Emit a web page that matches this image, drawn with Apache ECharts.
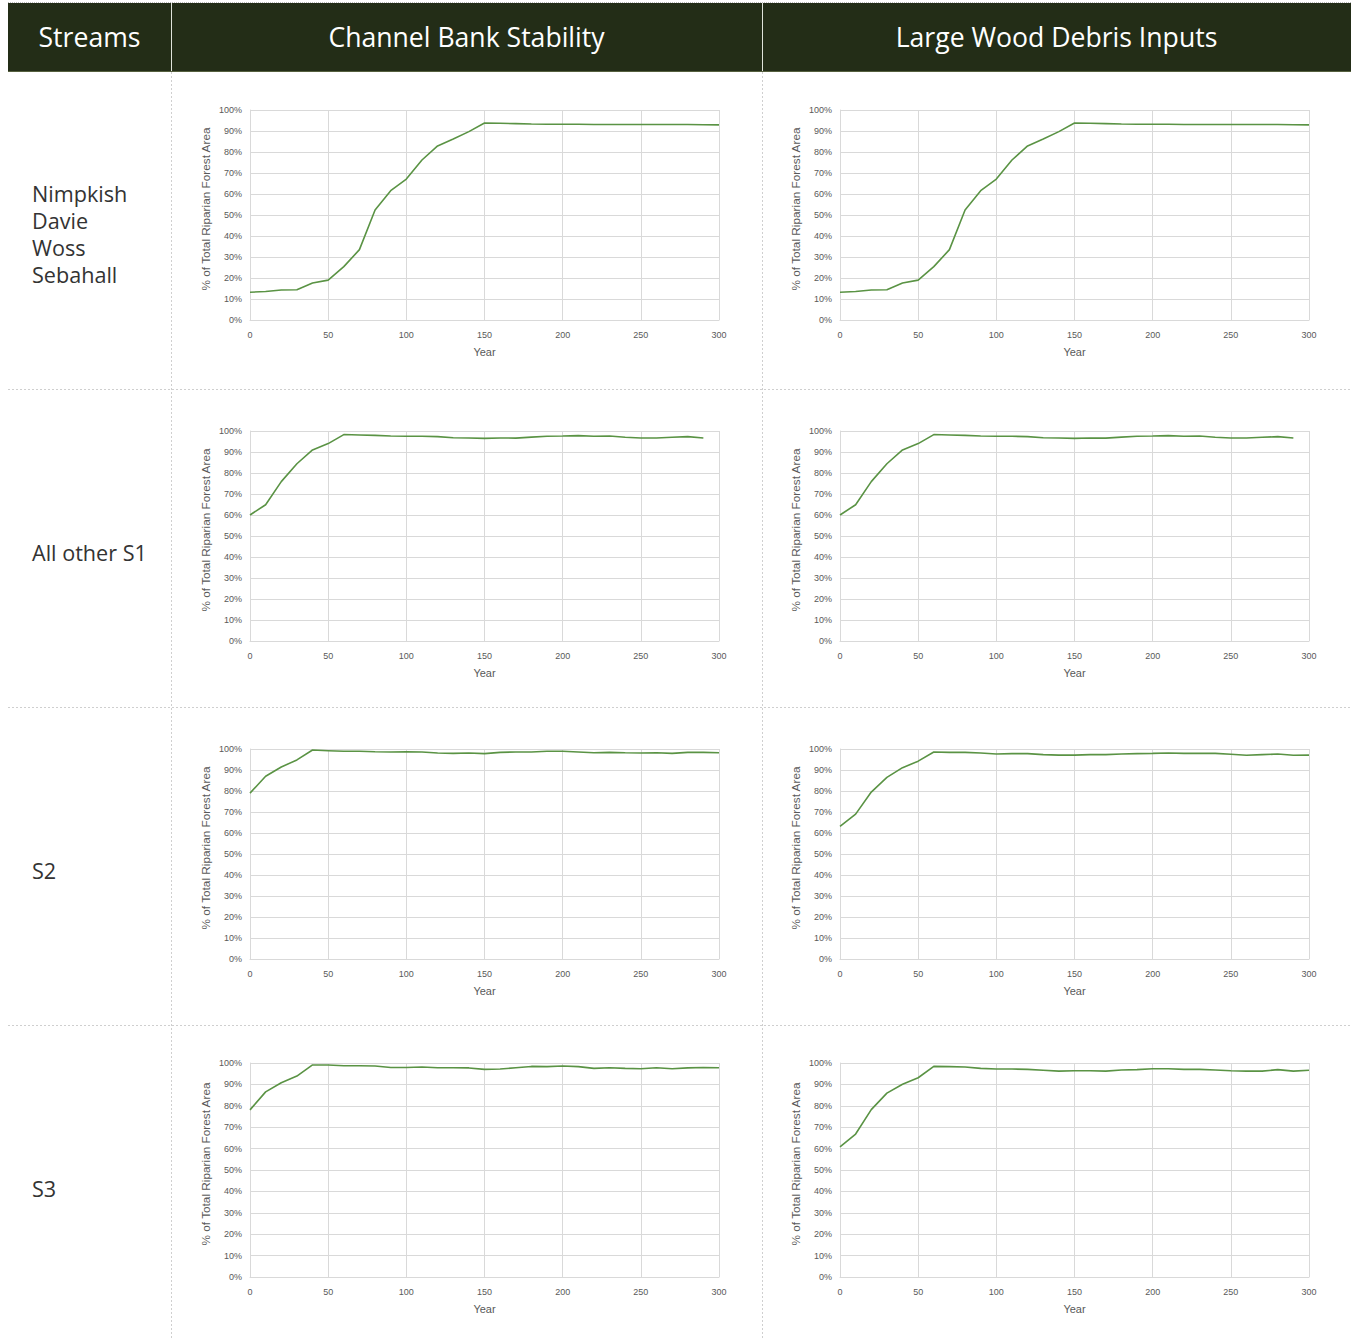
<!DOCTYPE html>
<html>
<head>
<meta charset="utf-8">
<title>Riparian forest recovery by stream class</title>
<script src="https://cdn.jsdelivr.net/npm/echarts@6/dist/echarts.min.js"></script>
<style>
  html, body { margin: 0; padding: 0; background: #ffffff; }
  #chart { width: 1351px; height: 1338px; }
</style>
</head>
<body>
<div id="chart"></div>
<script>
// Column headings and stream groups
const columnTitles = ['Streams', 'Channel Bank Stability', 'Large Wood Debris Inputs'];
const streamGroups = [
  ['Nimpkish', 'Davie', 'Woss', 'Sebahall'],
  ['All other S1'],
  ['S2'],
  ['S3']
];

// Simulation years (x values)
const years = [0, 10, 20, 30, 40, 50, 60, 70, 80, 90, 100, 110, 120, 130, 140, 150,
  160, 170, 180, 190, 200, 210, 220, 230, 240, 250, 260, 270, 280, 290, 300];

// % of total riparian forest area in functional condition
const nimpkishBank = [13.2, 13.6, 14.3, 14.4, 17.6, 19.0, 25.4, 33.5, 52.4, 61.6, 67.1, 76.2, 82.9, 86.2, 89.7, 93.8,
  93.7, 93.5, 93.3, 93.2, 93.2, 93.2, 93.1, 93.1, 93.1, 93.1, 93.1, 93.1, 93.1, 93.0, 92.9];
const nimpkishWood = [13.2, 13.6, 14.3, 14.4, 17.6, 19.0, 25.4, 33.5, 52.4, 61.6, 67.1, 76.2, 82.9, 86.2, 89.7, 93.8,
  93.7, 93.5, 93.3, 93.2, 93.2, 93.2, 93.1, 93.1, 93.1, 93.1, 93.1, 93.1, 93.1, 93.0, 92.9];
const s1Bank = [60.0, 64.9, 75.9, 84.4, 91.0, 94.0, 98.3, 98.1, 97.9, 97.6, 97.5, 97.5, 97.3, 96.8, 96.7, 96.5,
  96.7, 96.6, 97.1, 97.5, 97.6, 97.8, 97.5, 97.6, 97.0, 96.7, 96.7, 97.0, 97.3, 96.7];
const s1Wood = [60.0, 64.9, 75.9, 84.4, 91.0, 94.0, 98.3, 98.1, 97.9, 97.6, 97.5, 97.5, 97.3, 96.8, 96.7, 96.5,
  96.7, 96.6, 97.1, 97.5, 97.6, 97.8, 97.5, 97.6, 97.0, 96.7, 96.7, 97.0, 97.3, 96.7];
const s2Bank = [79.0, 87.0, 91.4, 94.8, 99.5, 99.2, 98.9, 98.9, 98.7, 98.6, 98.7, 98.6, 98.1, 97.9, 98.1, 97.8,
  98.4, 98.6, 98.6, 98.9, 98.9, 98.6, 98.2, 98.4, 98.2, 98.1, 98.2, 97.9, 98.4, 98.4, 98.2];
const s2Wood = [63.1, 69.0, 79.5, 86.5, 91.1, 94.2, 98.6, 98.4, 98.4, 98.1, 97.6, 97.8, 97.8, 97.3, 97.1, 97.1,
  97.3, 97.3, 97.6, 97.8, 97.9, 98.1, 97.9, 97.9, 97.9, 97.5, 97.0, 97.3, 97.6, 97.0, 97.1];
const s3Bank = [78.1, 86.5, 90.8, 93.9, 99.1, 99.1, 98.7, 98.7, 98.6, 97.9, 97.9, 98.1, 97.8, 97.8, 97.7, 97.0,
  97.2, 97.8, 98.4, 98.3, 98.6, 98.3, 97.5, 97.8, 97.5, 97.3, 97.8, 97.3, 97.7, 97.9, 97.8];
const s3Wood = [60.8, 66.8, 78.2, 85.9, 90.1, 93.1, 98.4, 98.3, 98.1, 97.5, 97.2, 97.2, 97.0, 96.6, 96.2, 96.4,
  96.4, 96.2, 96.7, 96.9, 97.3, 97.3, 97.0, 97.0, 96.7, 96.4, 96.2, 96.2, 96.9, 96.2, 96.6];

// Axis settings
const yTicks = { min: 0, max: 100, interval: 10 };
const xTicks = { min: 0, max: 300, interval: 50 };
const yAxisTitle = '% of Total Riparian Forest Area';
const xAxisTitle = 'Year';

const panels = [
  [nimpkishBank, nimpkishWood],
  [s1Bank, s1Wood],
  [s2Bank, s2Wood],
  [s3Bank, s3Wood]
];

// Page layout
const W = 1351;
const headerTop = 3, headerBottom = 72;
const colEdges = [8, 171, 762, 1351];
const rowEdges = [72, 389, 707, 1025, 1338];
const plotTops = [110, 431, 749, 1063];
const plotHeights = [210, 210, 210, 214];
const plotLefts = [250, 840];
const plotWidth = 469;

const lineColor = '#5a9344';
const gridColor = '#d9d9d9';
const labelColor = '#595959';
const axisFont = 'Liberation Sans, Arial, sans-serif';

const grids = [], xAxes = [], yAxes = [], series = [];
panels.forEach((pair, r) => {
  pair.forEach((vals, c) => {
    const idx = grids.length;
    grids.push({ left: plotLefts[c], top: plotTops[r], width: plotWidth, height: plotHeights[r], containLabel: false });
    xAxes.push({
      type: 'value', gridIndex: idx, min: xTicks.min, max: xTicks.max, interval: xTicks.interval,
      name: xAxisTitle, nameLocation: 'middle', nameGap: 26,
      nameTextStyle: { fontFamily: axisFont, fontSize: 11, color: labelColor },
      axisLine: { show: true, lineStyle: { color: gridColor, width: 1 } },
      axisTick: { show: false },
      axisLabel: { fontFamily: axisFont, fontSize: 9, color: labelColor, margin: 10 },
      splitLine: { show: true, lineStyle: { color: gridColor, width: 1 } }
    });
    yAxes.push({
      type: 'value', gridIndex: idx, min: yTicks.min, max: yTicks.max, interval: yTicks.interval,
      name: yAxisTitle, nameLocation: 'middle', nameGap: 38, nameRotate: 90,
      nameTextStyle: { fontFamily: axisFont, fontSize: 11.8, color: labelColor, padding: [0, 0, 0, 12] },
      axisLine: { show: true, lineStyle: { color: gridColor, width: 1 } },
      axisTick: { show: false },
      axisLabel: { fontFamily: axisFont, fontSize: 9, color: labelColor, margin: 8, formatter: '{value}%' },
      splitLine: { show: true, lineStyle: { color: gridColor, width: 1 } }
    });
    series.push({
      type: 'line', xAxisIndex: idx, yAxisIndex: idx,
      data: vals.map((v, i) => [years[i], v]),
      showSymbol: false, silent: true,
      lineStyle: { color: lineColor, width: 1.6 }
    });
  });
});

// Table frame: header band, separators, stream labels
const graphics = [];
graphics.push({ type: 'rect', shape: { x: colEdges[0], y: headerTop, width: W - colEdges[0], height: headerBottom - headerTop },
  style: { fill: '#232d17' }, silent: true });
graphics.push({ type: 'line', shape: { x1: colEdges[0], y1: headerTop - 0.5, x2: W, y2: headerTop - 0.5 },
  style: { stroke: '#bbbbbb', lineWidth: 1, lineDash: [1, 1] }, silent: true });
[colEdges[1], colEdges[2]].forEach(x => {
  graphics.push({ type: 'line', shape: { x1: x + 0.5, y1: headerTop, x2: x + 0.5, y2: headerBottom },
    style: { stroke: '#dfe3da', lineWidth: 1 }, silent: true });
  graphics.push({ type: 'line', shape: { x1: x + 0.5, y1: headerBottom, x2: x + 0.5, y2: 1338 },
    style: { stroke: '#cfcfcf', lineWidth: 1, lineDash: [2, 2] }, silent: true });
});
graphics.push({ type: 'line', shape: { x1: colEdges[0], y1: headerBottom - 0.5, x2: W, y2: headerBottom - 0.5 },
  style: { stroke: '#56603f', lineWidth: 1 }, silent: true });
[rowEdges[1], rowEdges[2], rowEdges[3]].forEach(y => {
  graphics.push({ type: 'line', shape: { x1: colEdges[0], y1: y + 0.5, x2: W, y2: y + 0.5 },
    style: { stroke: '#cfcfcf', lineWidth: 1, lineDash: [2, 2] }, silent: true });
});
columnTitles.forEach((t, i) => {
  graphics.push({ type: 'text', x: (colEdges[i] + colEdges[i + 1]) / 2, y: 36.5,
    style: { text: t, fill: '#ffffff', font: '26.6px "Open Sans", "Noto Sans", sans-serif',
      textAlign: 'center', textVerticalAlign: 'middle' }, silent: true });
});
const labelCenters = [234, 552, 870, 1188];
streamGroups.forEach((names, r) => {
  graphics.push({ type: 'text', x: 32, y: labelCenters[r],
    style: { text: names.join('\n'), fill: '#333333', font: '21.6px "Open Sans", "Noto Sans", sans-serif',
      lineHeight: 27.3, textAlign: 'left', textVerticalAlign: 'middle' }, silent: true });
});

const chart = echarts.init(document.getElementById('chart'), null, { renderer: 'svg', width: 1351, height: 1338 });
chart.setOption({
  animation: false,
  backgroundColor: '#ffffff',
  grid: grids,
  xAxis: xAxes,
  yAxis: yAxes,
  series: series,
  graphic: graphics
});
</script>
</body>
</html>
